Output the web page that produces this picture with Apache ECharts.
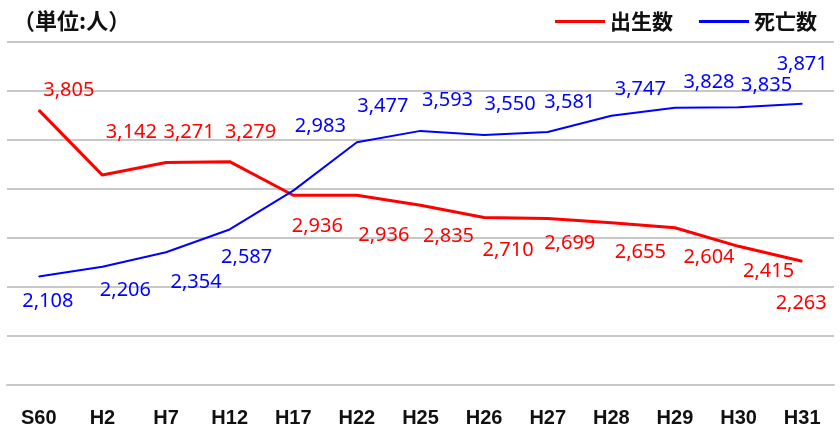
<!DOCTYPE html>
<html>
<head>
<meta charset="utf-8">
<script src="https://cdn.jsdelivr.net/npm/echarts@6/dist/echarts.min.js"></script>
<style>
  html, body { margin: 0; padding: 0; background: #fff; }
  #main { width: 840px; height: 428px; }
</style>
</head>
<body>
<div id="main"></div>
<script>
const categories = ['S60', 'H2', 'H7', 'H12', 'H17', 'H22', 'H25', 'H26', 'H27', 'H28', 'H29', 'H30', 'H31'];
const births = [3805, 3142, 3271, 3279, 2936, 2936, 2835, 2710, 2699, 2655, 2604, 2415, 2263];
const deaths = [2108, 2206, 2354, 2587, 2983, 3477, 3593, 3550, 3581, 3747, 3828, 3835, 3871];

// label offsets (px) from each point, like the hand-placed labels in the original
const birthLabelOffsets = [[30, -20], [29, -43], [23, -30], [21, -29], [24, 31], [27, 40], [28, 31], [24, 33], [22, 25], [29, 29], [34, 29], [30, 25], [-1, 42]];
const deathLabelOffsets = [[9, 25], [23, 23], [30, 30], [17, 28], [27, -64], [26, -36], [27, -31], [26, -31], [22, -30], [29, -26], [34, -26], [28, -22], [0, -39]];

const labelFont = 'Noto Sans, sans-serif';
const jpFont = 'Noto Sans CJK JP, sans-serif';

function withLabels(values, offsets, color) {
    return values.map((v, i) => ({
        value: v,
        label: { offset: offsets[i], color: color }
    }));
}

var chart = echarts.init(document.getElementById('main'));

chart.setOption({
    animation: false,
    title: {
        text: '（単位:人）',
        left: 8,
        top: 5,
        textStyle: { fontFamily: jpFont, fontWeight: 'bold', fontSize: 22, color: '#111' }
    },
    legend: {
        right: 18,
        top: 6,
        itemWidth: 50,
        itemHeight: 3,
        itemGap: 26,
        icon: 'rect',
        textStyle: { fontFamily: jpFont, fontWeight: 'bold', fontSize: 21, color: '#111' },
        data: ['出生数', '死亡数']
    },
    grid: { left: 7, right: 6, top: 42, bottom: 41 },
    xAxis: {
        type: 'category',
        data: categories,
        axisLine: { lineStyle: { color: '#c8c8c8', width: 2 } },
        axisTick: { show: false },
        axisLabel: {
            margin: 23,
            fontFamily: 'Liberation Sans Narrow, sans-serif',
            fontWeight: 'bold',
            fontSize: 20,
            color: '#111'
        }
    },
    yAxis: {
        type: 'value',
        min: 1000,
        max: 4500,
        interval: 500,
        axisLabel: { show: false },
        axisLine: { show: false },
        axisTick: { show: false },
        splitLine: { lineStyle: { color: '#c8c8c8', width: 2 } }
    },
    series: [
        {
            name: '出生数',
            type: 'line',
            data: withLabels(births, birthLabelOffsets, '#ff0000'),
            symbol: 'circle',
            symbolSize: 1,
            itemStyle: { color: '#ff0000' },
            lineStyle: { color: '#ff0000', width: 3 },
            label: {
                show: true,
                position: 'inside',
                fontFamily: labelFont,
                fontSize: 20,
                formatter: p => p.value.toLocaleString('en-US')
            }
        },
        {
            name: '死亡数',
            type: 'line',
            data: withLabels(deaths, deathLabelOffsets, '#0000ff'),
            symbol: 'circle',
            symbolSize: 1,
            itemStyle: { color: '#0000ff' },
            lineStyle: { color: '#0000ff', width: 2 },
            label: {
                show: true,
                position: 'inside',
                fontFamily: labelFont,
                fontSize: 20,
                formatter: p => p.value.toLocaleString('en-US')
            }
        }
    ]
});
</script>
</body>
</html>
